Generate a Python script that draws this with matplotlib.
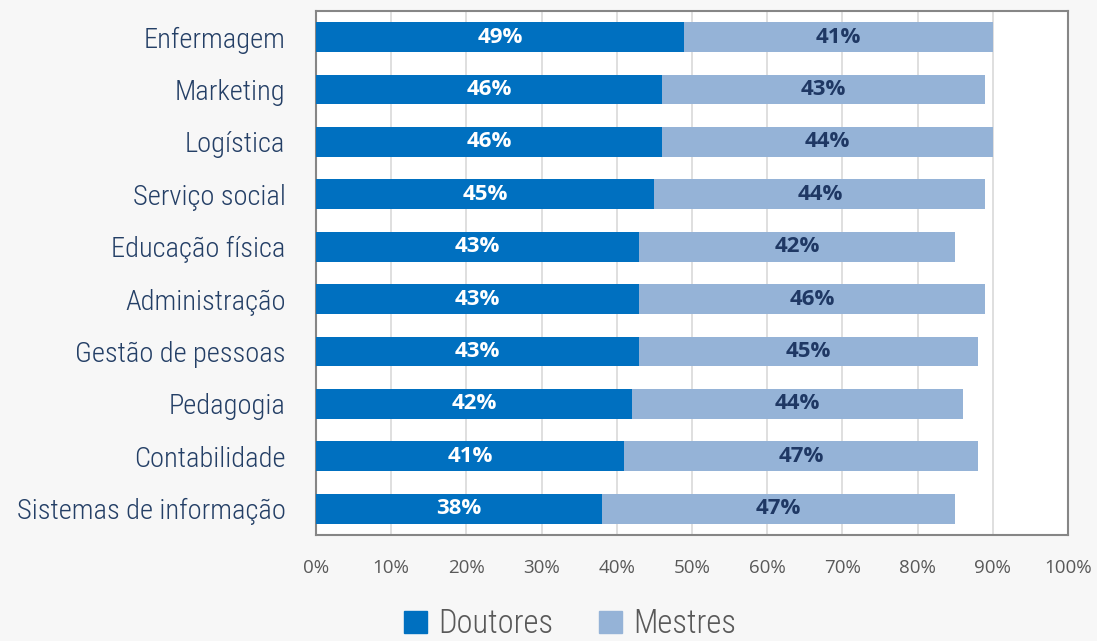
import matplotlib.pyplot as plt
from matplotlib.patches import Patch

# --- dados ---
cursos = ["Enfermagem", "Marketing", "Logística", "Serviço social", "Educação física",
          "Administração", "Gestão de pessoas", "Pedagogia", "Contabilidade",
          "Sistemas de informação"]
doutores = [49, 46, 46, 45, 43, 43, 43, 42, 41, 38]
mestres = [41, 43, 44, 44, 42, 46, 45, 44, 47, 47]
ticks = [0, 10, 20, 30, 40, 50, 60, 70, 80, 90, 100]

AZUL = "#0070C0"
AZUL_CLARO = "#95B3D7"
NAVY = "#1F3864"
CINZA = "#595959"
NARROW = ["Roboto Condensed", "Liberation Sans Narrow", "DejaVu Sans"]
BOLD = ["Open Sans", "DejaVu Sans"]

fig = plt.figure(figsize=(10.97, 6.41), dpi=100)
fig.patch.set_facecolor("#f7f7f7")
ax = fig.add_axes([0.288, 0.1654, 0.6856, 0.8176])
ax.set_facecolor("white")

y = list(range(len(cursos)))
h = 0.57
ax.barh(y, doutores, height=h, color=AZUL, zorder=3)
ax.barh(y, mestres, left=doutores, height=h, color=AZUL_CLARO, zorder=3)

for i, (d, m) in enumerate(zip(doutores, mestres)):
    ax.text(d / 2, i, f"{d}%", ha="center", va="center", color="white",
            fontsize=16, fontweight="bold", family=BOLD, zorder=4)
    ax.text(d + m / 2, i, f"{m}%", ha="center", va="center", color=NAVY,
            fontsize=16, fontweight="bold", family=BOLD, zorder=4)

ax.set_xlim(0, 100)
ax.set_ylim(len(cursos) - 0.5, -0.5)
ax.set_yticks(y)
ax.set_yticklabels(cursos, family=NARROW, fontsize=20.5, color="#243f66", fontweight="light")
ax.set_xticks(ticks)
ax.set_xticklabels([f"{t}%" for t in ticks], family=["Open Sans", "DejaVu Sans"],
                   fontsize=13.5, color=CINZA)
ax.tick_params(axis="y", length=0, pad=22)
ax.tick_params(axis="x", length=0, pad=17)
ax.grid(axis="x", color="#d9d9d9", linewidth=1.2, zorder=0)
for s in ax.spines.values():
    s.set_color("#868686")
    s.set_linewidth(1.5)

handles = [Patch(color=AZUL, label="Doutores"), Patch(color=AZUL_CLARO, label="Mestres")]
fig.legend(handles=handles, loc="lower center", bbox_to_anchor=(0.52, -0.045), ncol=2,
           frameon=False, prop={"family": NARROW, "size": 23.5, "weight": "light"},
           labelcolor=CINZA, handlelength=0.7, handleheight=0.7, handletextpad=0.35,
           columnspacing=1.4)

fig.savefig("out.png", dpi=100, facecolor=fig.get_facecolor())
